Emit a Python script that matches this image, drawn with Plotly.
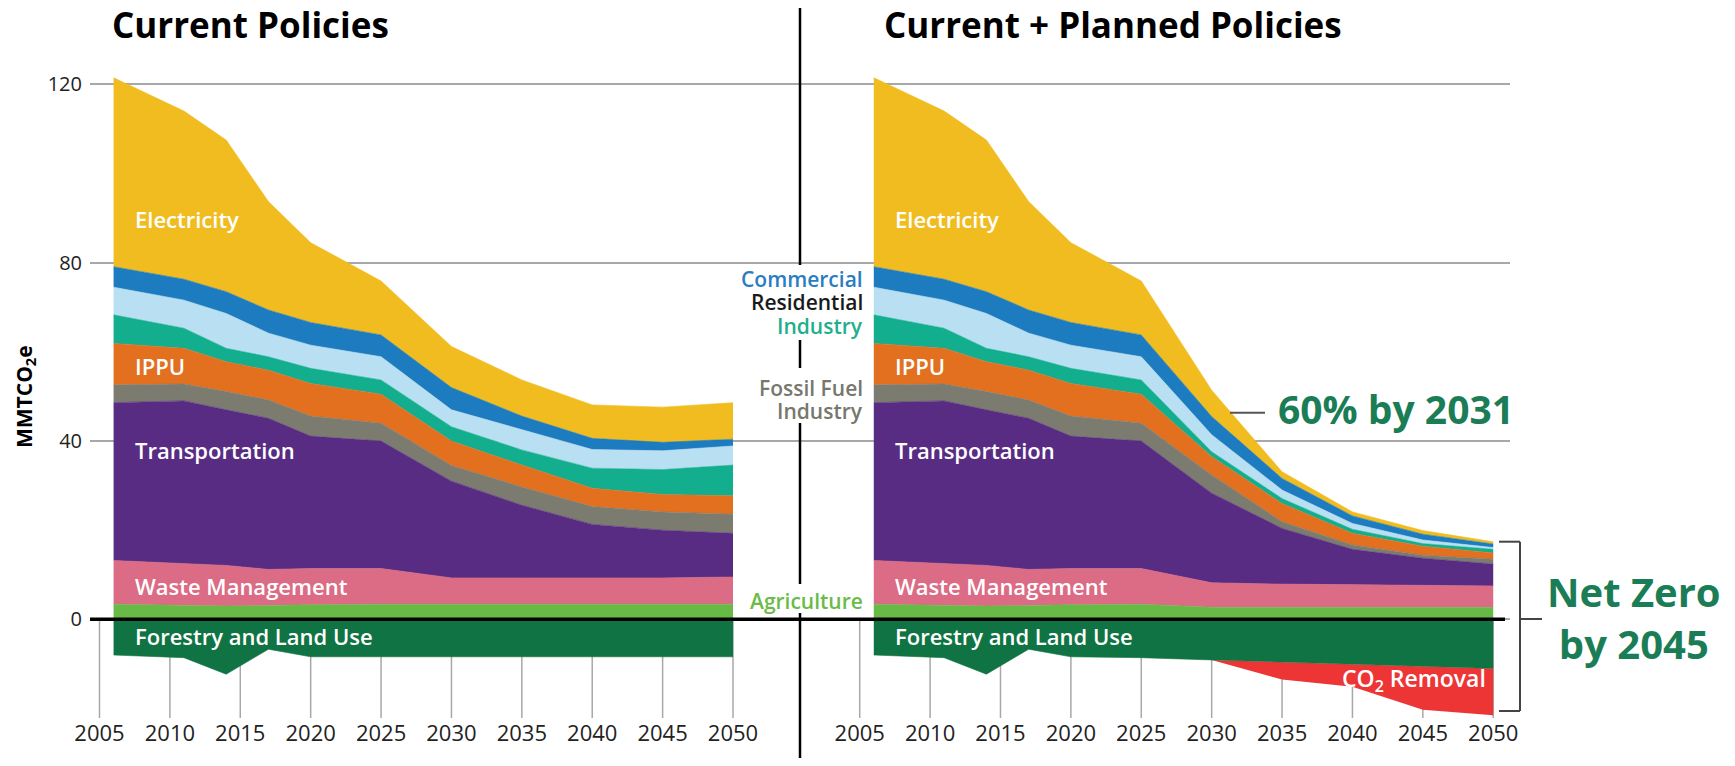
import plotly.graph_objects as go

# ---------------- data ----------------
YEARS = [2006, 2011, 2014, 2017, 2020, 2025, 2030, 2035, 2040, 2045, 2050]
TICK_YEARS = [2005, 2010, 2015, 2020, 2025, 2030, 2035, 2040, 2045, 2050]
Y_TICKS = [0, 40, 80, 120]
PANEL_SHIFT = 54  # second panel placed 54 x-units to the right on the shared axis

# Current Policies (MMTCO2e per sector, stacked bottom -> top)
CUR_AGRICULTURE = [3.4, 3.2, 3.0, 3.1, 3.3, 3.4, 3.4, 3.4, 3.4, 3.4, 3.4]
CUR_WASTE = [9.8, 9.4, 9.1, 8.1, 8.1, 8.0, 5.9, 5.9, 5.9, 5.9, 6.1]
CUR_TRANSPORT = [35.4, 36.4, 34.9, 33.9, 29.7, 28.6, 21.7, 16.3, 12.0, 10.7, 9.8]
CUR_FOSSIL = [4.0, 3.8, 4.1, 4.1, 4.5, 4.0, 3.5, 4.1, 4.0, 4.1, 4.3]
CUR_IPPU = [9.3, 8.0, 6.7, 6.7, 7.3, 6.5, 5.5, 4.9, 4.1, 3.9, 4.1]
CUR_INDUSTRY = [6.4, 4.5, 3.0, 3.0, 3.4, 3.2, 3.2, 3.4, 4.5, 5.6, 6.9]
CUR_RESIDENTIAL = [6.2, 6.3, 7.8, 5.3, 5.2, 5.2, 3.8, 4.5, 4.2, 4.2, 4.3]
CUR_COMMERCIAL = [4.6, 4.7, 4.9, 5.2, 5.1, 4.9, 5.0, 3.1, 2.5, 1.9, 1.5]
CUR_ELECTRICITY = [42.4, 37.7, 34.0, 24.3, 17.9, 12.1, 9.2, 8.1, 7.5, 7.9, 8.2]
CUR_FORESTRY = [-8.0, -8.6, -12.3, -6.7, -8.4, -8.4, -8.4, -8.4, -8.4, -8.4, -8.4]

# Current + Planned Policies
PLAN_AGRICULTURE = [3.4, 3.2, 3.0, 3.1, 3.3, 3.4, 2.7, 2.7, 2.7, 2.7, 2.7]
PLAN_WASTE = [9.8, 9.4, 9.1, 8.1, 8.1, 8.0, 5.5, 5.2, 5.1, 4.9, 4.8]
PLAN_TRANSPORT = [35.4, 36.4, 34.9, 33.9, 29.7, 28.6, 20.1, 12.5, 7.9, 6.1, 4.9]
PLAN_FOSSIL = [4.0, 3.8, 4.1, 4.1, 4.5, 4.0, 4.1, 1.5, 1.0, 0.7, 1.1]
PLAN_IPPU = [9.3, 8.0, 6.7, 6.7, 7.3, 6.5, 4.1, 4.1, 2.6, 2.0, 1.4]
PLAN_INDUSTRY = [6.4, 4.5, 3.0, 3.0, 3.4, 3.2, 1.1, 1.1, 0.9, 0.6, 0.8]
PLAN_RESIDENTIAL = [6.2, 6.3, 7.8, 5.3, 5.2, 5.2, 3.8, 1.9, 1.3, 0.8, 0.4]
PLAN_COMMERCIAL = [4.6, 4.7, 4.9, 5.2, 5.1, 4.9, 4.1, 2.6, 1.7, 1.3, 0.8]
PLAN_ELECTRICITY = [42.4, 37.7, 34.0, 24.3, 17.9, 12.1, 5.9, 1.5, 0.9, 0.8, 0.5]
PLAN_FORESTRY = [-8.0, -8.6, -12.3, -6.7, -8.4, -8.6, -9.1, -9.6, -10.0, -10.5, -11.0]
PLAN_CO2_REMOVAL = [0, 0, 0, 0, 0, 0, 0, -3.9, -5.1, -9.8, -10.5]

SECTOR_NAMES = ["Agriculture", "Waste Management", "Transportation", "Fossil Fuel Industry",
                "IPPU", "Industry", "Residential", "Commercial", "Electricity"]
COLORS = {
    "Agriculture": "#66BA45", "Waste Management": "#DC6B85", "Transportation": "#582C83",
    "Fossil Fuel Industry": "#7B7B6F", "IPPU": "#E2701F", "Industry": "#12AE8E",
    "Residential": "#B8E0F2", "Commercial": "#1D7BBF", "Electricity": "#F1BC1F",
    "Forestry and Land Use": "#107343", "CO2 Removal": "#EE3535",
}

PANELS = [
    ("cur", 0, [CUR_AGRICULTURE, CUR_WASTE, CUR_TRANSPORT, CUR_FOSSIL, CUR_IPPU, CUR_INDUSTRY,
                CUR_RESIDENTIAL, CUR_COMMERCIAL, CUR_ELECTRICITY],
     [("Forestry and Land Use", CUR_FORESTRY)]),
    ("plan", PANEL_SHIFT, [PLAN_AGRICULTURE, PLAN_WASTE, PLAN_TRANSPORT, PLAN_FOSSIL, PLAN_IPPU,
                           PLAN_INDUSTRY, PLAN_RESIDENTIAL, PLAN_COMMERCIAL, PLAN_ELECTRICITY],
     [("Forestry and Land Use", PLAN_FORESTRY), ("CO2 Removal", PLAN_CO2_REMOVAL)]),
]

# ---------------- layout geometry (page pixels; page body has an 8px margin) ----------------
OFF = 8
W, H = 1735 - 2 * OFF, 766 - 2 * OFF
P_LEFT, P_RIGHT, P_TOP, P_BOTTOM = 90, 1510, 31, 718
ML, MT = P_LEFT - OFF, P_TOP - OFF
MR = (W + OFF) - P_RIGHT
MB = (H + OFF) - P_BOTTOM
PW, PH = P_RIGHT - P_LEFT, P_BOTTOM - P_TOP
X_RANGE = [2004.325, 2004.325 + PW / 14.078]
Y_RANGE = [-22.13, 131.97]


def xp(px):
    return (px - P_LEFT) / PW


def yp(py):
    return (P_BOTTOM - py) / PH


fig = go.Figure()
for tag, shift, pos_series, neg_series in PANELS:
    xs = [y + shift for y in YEARS]
    for name, vals in zip(SECTOR_NAMES, pos_series):
        fig.add_trace(go.Scatter(x=xs, y=vals, stackgroup=tag + "_pos", mode="lines",
                                 line=dict(width=0.6, color=COLORS[name]),
                                 fillcolor=COLORS[name], name=name, showlegend=False))
    for name, vals in neg_series:
        lw = 0 if name == "CO2 Removal" else 0.6
        fig.add_trace(go.Scatter(x=xs, y=vals, stackgroup=tag + "_neg", mode="lines",
                                 line=dict(width=lw, color=COLORS[name]),
                                 fillcolor=COLORS[name], name=name, showlegend=False))

shapes = []
# vertical tick lines below the zero line
for shift in (0, PANEL_SHIFT):
    for t in TICK_YEARS:
        shapes.append(dict(type="line", xref="x", yref="y", x0=t + shift, x1=t + shift,
                           y0=0, y1=Y_RANGE[0], line=dict(color="#A8A8A8", width=1.5),
                           layer="below"))
# zero line
shapes.append(dict(type="line", xref="paper", yref="y", x0=0, x1=xp(1505), y0=0, y1=0,
                   line=dict(color="black", width=3.5), layer="above"))
# central divider (broken around labels)
for a, b in [(8, 265), (340, 368), (423, 584), (613, 766)]:
    shapes.append(dict(type="line", xref="paper", yref="paper", x0=xp(800), x1=xp(800),
                       y0=yp(a), y1=yp(b), line=dict(color="black", width=2.5)))
# leader for 60% annotation
shapes.append(dict(type="line", xref="paper", yref="paper", x0=xp(1230), x1=xp(1265),
                   y0=yp(412.7), y1=yp(412.7), line=dict(color="#555555", width=2)))
# bracket for net zero
bc = "#444444"
shapes += [
    dict(type="line", xref="paper", yref="paper", x0=xp(1520), x1=xp(1520), y0=yp(541.7), y1=yp(711),
         line=dict(color=bc, width=2)),
    dict(type="line", xref="paper", yref="paper", x0=xp(1499), x1=xp(1520), y0=yp(541.7), y1=yp(541.7),
         line=dict(color=bc, width=2)),
    dict(type="line", xref="paper", yref="paper", x0=xp(1499), x1=xp(1520), y0=yp(711), y1=yp(711),
         line=dict(color=bc, width=2)),
    dict(type="line", xref="paper", yref="paper", x0=xp(1520), x1=xp(1542), y0=yp(619), y1=yp(619),
         line=dict(color=bc, width=2)),
]

FONT = "Open Sans"
ann = []
# titles
ann.append(dict(text="Current Policies", xref="paper", yref="paper", x=xp(110), y=yp(25),
                xanchor="left", yanchor="middle", showarrow=False,
                font=dict(family=FONT, size=35, color="black", weight=700)))
ann.append(dict(text="Current + Planned Policies", xref="paper", yref="paper", x=xp(882), y=yp(25),
                xanchor="left", yanchor="middle", showarrow=False,
                font=dict(family=FONT, size=35, color="black", weight=700)))
# y-axis title
ann.append(dict(text="MMTCO<sub>2</sub>e", xref="paper", yref="paper", x=xp(25), y=yp(397),
                textangle=-90, showarrow=False, xanchor="center", yanchor="middle",
                font=dict(family=FONT, size=21, color="black", weight=700)))
# in-area labels
inner = [("Electricity", 89.8), ("IPPU", 56.8), ("Transportation", 38.0),
         ("Waste Management", 7.4), ("Forestry and Land Use", -3.7)]
for shift in (0, PANEL_SHIFT):
    for txt, yv in inner:
        ann.append(dict(text=txt, xref="x", yref="y", x=2007.35 + shift, y=yv, xanchor="left",
                        yanchor="middle", showarrow=False,
                        font=dict(family=FONT, size=22, color="white", weight=600)))
ann.append(dict(text="CO<sub>2</sub> Removal", xref="x", yref="y", x=2049.6 + PANEL_SHIFT, y=-13.6,
                xanchor="right", yanchor="middle", showarrow=False,
                font=dict(family=FONT, size=23, color="white", weight=600)))
# middle legend-like labels
mid = [("Commercial", 279, "#2A7DBF"), ("Residential", 302, "#1A1A1A"), ("Industry", 326, "#1FAF8E"),
       ("Fossil Fuel", 388, "#77776E"), ("Industry", 411, "#77776E"), ("Agriculture", 601, "#6ABB48")]
for txt, py, col in mid:
    ann.append(dict(text=txt, xref="paper", yref="paper", x=xp(865), y=yp(py), xanchor="right",
                    yanchor="middle", showarrow=False,
                    font=dict(family=FONT, size=21, color=col, weight=600)))
# callouts
GREEN = "#1B7D56"
ann.append(dict(text="60% by 2031", xref="paper", yref="paper", x=xp(1276), y=yp(409),
                xanchor="left", yanchor="middle", showarrow=False,
                font=dict(family=FONT, size=39, color=GREEN, weight=700)))
ann.append(dict(text="Net Zero<br>by 2045", xref="paper", yref="paper", x=xp(1634), y=yp(617),
                xanchor="center", yanchor="middle", align="center", showarrow=False,
                font=dict(family=FONT, size=40, color=GREEN, weight=700)))

tickvals = [t for t in TICK_YEARS] + [t + PANEL_SHIFT for t in TICK_YEARS]
ticktext = [str(t) for t in TICK_YEARS] * 2

fig.update_layout(
    width=W, height=H, margin=dict(l=ML, r=MR, t=MT, b=MB),
    paper_bgcolor="white", plot_bgcolor="white", showlegend=False,
    shapes=shapes, annotations=ann, hovermode=False,
    xaxis=dict(range=X_RANGE, tickvals=tickvals, ticktext=ticktext, showgrid=False,
               zeroline=False, showline=False, ticks="",
               tickfont=dict(family=FONT, size=22, color="#222222")),
    yaxis=dict(range=Y_RANGE, tickvals=Y_TICKS, showgrid=True, gridcolor="#A8A8A8", gridwidth=2,
               zeroline=False, showline=False, ticks="", ticklabelstandoff=7,
               tickfont=dict(family=FONT, size=20, color="#222222")),
)

fig.write_html("out.html")
